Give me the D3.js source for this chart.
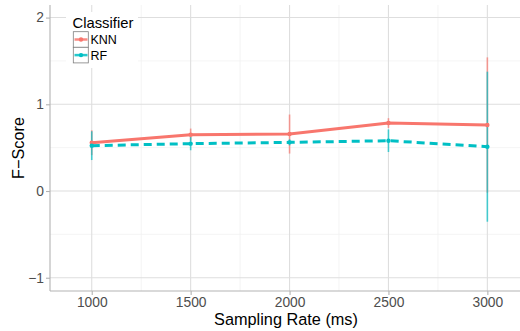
<!DOCTYPE html>
<html><head><meta charset="utf-8">
<script src="https://cdn.jsdelivr.net/npm/d3@7"></script>
<style>body{margin:0;background:#fff}svg{display:block;font-family:"Liberation Sans",Arial,Helvetica,sans-serif}</style>
</head><body><svg id="c" width="520" height="331"></svg>
<script>
const rates = [1000, 1500, 2000, 2500, 3000];
const knnMean = [0.557, 0.650, 0.657, 0.784, 0.761];
const knnSd   = [0.143, 0.070, 0.225, 0.056, 0.780];
const rfMean  = [0.523, 0.546, 0.561, 0.580, 0.511];
const rfSd    = [0.166, 0.076, 0.035, 0.130, 0.865];
const xTicks = [1000, 1500, 2000, 2500, 3000];
const xMinor = [1250, 1750, 2250, 2750];
const yTicks = [-1, 0, 1, 2];
const yMinor = [-0.5, 0.5, 1.5];
const classifiers = ["KNN", "RF"];
const colors = {KNN: "#F8766D", RF: "#00BFC4"};

const FONT = "Liberation Sans, Arial, sans-serif";
const svg = d3.select("#c");
const L = 50, R = 520, T = 5, B = 291;
const x = d3.scaleLinear().domain([789, 3165]).range([L, R]);
const y = d3.scaleLinear().domain([-1.153, 2.145]).range([B, T]);

const series = [
  {name: "KNN", vals: rates.map((r, i) => ({r, m: knnMean[i], s: knnSd[i]})), dash: null},
  {name: "RF", vals: rates.map((r, i) => ({r, m: rfMean[i], s: rfSd[i]})), dash: "8,5"}
];

// grid
const g = svg.append("g");
g.selectAll(".mx").data(xMinor).join("line").attr("x1", d => x(d)).attr("x2", d => x(d)).attr("y1", T).attr("y2", B).attr("stroke", "#EFEFEF").attr("stroke-width", 0.7);
g.selectAll(".my").data(yMinor).join("line").attr("x1", L).attr("x2", R).attr("y1", d => y(d)).attr("y2", d => y(d)).attr("stroke", "#EFEFEF").attr("stroke-width", 0.7);
g.selectAll(".Mx").data(xTicks).join("line").attr("x1", d => x(d)).attr("x2", d => x(d)).attr("y1", T).attr("y2", B).attr("stroke", "#DEDEDE").attr("stroke-width", 1.1);
g.selectAll(".My").data(yTicks).join("line").attr("x1", L).attr("x2", R).attr("y1", d => y(d)).attr("y2", d => y(d)).attr("stroke", "#DEDEDE").attr("stroke-width", 1.1);

// axes
const xa = svg.append("g").attr("transform", `translate(0,${B})`).call(d3.axisBottom(x).tickValues(xTicks).tickSize(4).tickPadding(4).tickFormat(d3.format("d")));
const ya = svg.append("g").attr("transform", `translate(${L},0)`).call(d3.axisLeft(y).tickValues(yTicks).tickSize(4).tickPadding(2).tickFormat(d => d < 0 ? "\u2212" + Math.abs(d) : String(d)));
[xa, ya].forEach(a => {
  a.select(".domain").remove();
  a.selectAll(".tick line").attr("stroke", "#B3B3B3").attr("stroke-width", 1.1);
  a.selectAll(".tick text").attr("fill", "#4D4D4D").attr("font-size", 13.8).attr("font-family", FONT);
});
xa.selectAll(".tick text").attr("dy", null).attr("y", 15.5);
svg.append("line").attr("x1", L).attr("x2", L).attr("y1", T).attr("y2", B).attr("stroke", "#B3B3B3").attr("stroke-width", 1.1);
svg.append("line").attr("x1", L).attr("x2", R).attr("y1", B).attr("y2", B).attr("stroke", "#B3B3B3").attr("stroke-width", 1.1);

// error bars
series.forEach(s => {
  svg.append("g").selectAll("line").data(s.vals).join("line")
    .attr("x1", d => x(d.r)).attr("x2", d => x(d.r))
    .attr("y1", d => y(d.m - d.s)).attr("y2", d => y(d.m + d.s))
    .attr("stroke", colors[s.name]).attr("stroke-width", 1.6).attr("stroke-opacity", 0.7);
});
// lines + points
const line = d3.line().x(d => x(d.r)).y(d => y(d.m));
series.forEach(s => {
  svg.append("path").datum(s.vals).attr("d", line).attr("fill", "none")
    .attr("stroke", colors[s.name]).attr("stroke-width", 3)
    .attr("stroke-dasharray", s.dash);
  svg.append("g").selectAll("circle").data(s.vals).join("circle")
    .attr("cx", d => x(d.r)).attr("cy", d => y(d.m)).attr("r", 2.2).attr("fill", colors[s.name]);
});

// axis titles
svg.append("text").attr("x", 286).attr("y", 324.5).attr("text-anchor", "middle").attr("font-size", 16.3).attr("fill", "#000").text("Sampling Rate (ms)");
svg.append("text").attr("transform", "translate(24,148) rotate(-90)").attr("text-anchor", "middle").attr("font-size", 16.3).attr("fill", "#000").text("F\u2212Score");

// legend
const lg = svg.append("g");
lg.append("rect").attr("x", 66).attr("y", 12).attr("width", 72).attr("height", 56).attr("fill", "#fff");
lg.append("text").attr("x", 72.5).attr("y", 28.3).attr("font-size", 14.8).attr("fill", "#000").text("Classifier");
classifiers.forEach((c, i) => {
  const ky = 31.7 + i * 15.6;
  lg.append("rect").attr("x", 73.3).attr("y", ky).attr("width", 15).attr("height", 15.6).attr("fill", "#fff").attr("stroke", "#7F7F7F").attr("stroke-width", 0.8);
  lg.append("line").attr("x1", 74.5).attr("x2", 87.5).attr("y1", ky + 7.8).attr("y2", ky + 7.8).attr("stroke", colors[c]).attr("stroke-width", 2.5).attr("stroke-opacity", 0.85);
  lg.append("circle").attr("cx", 81).attr("cy", ky + 7.8).attr("r", 2.2).attr("fill", colors[c]);
  lg.append("text").attr("x", 90.5).attr("y", ky + 12.6).attr("font-size", 12.5).attr("fill", "#000").text(c);
});
</script></body></html>
